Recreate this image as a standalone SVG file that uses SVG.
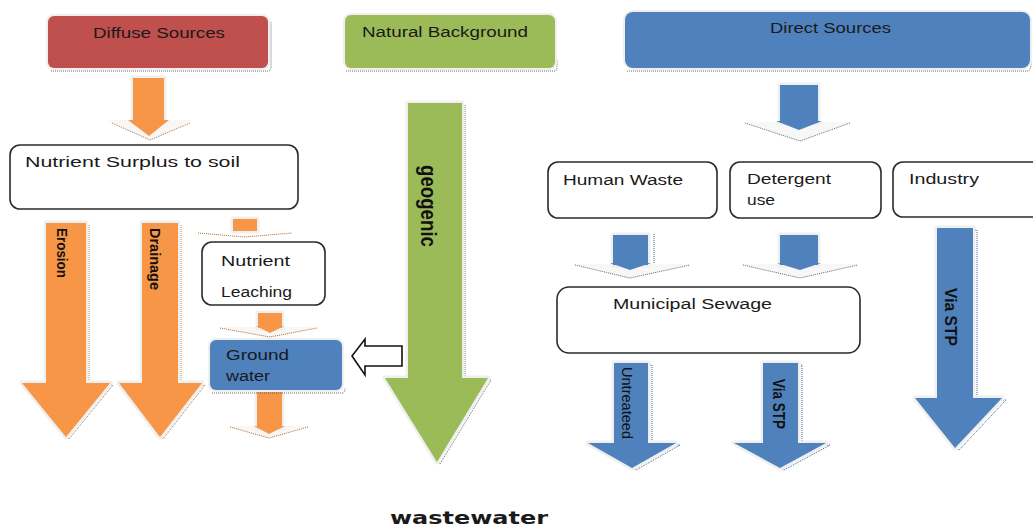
<svg xmlns="http://www.w3.org/2000/svg" width="1033" height="527" viewBox="0 0 1033 527">
<style>
.bg{fill:#ffffff}
.lbl{font-family:"Liberation Sans",Arial,sans-serif;font-size:14px;fill:#1a1a1a}
.vb{font-family:"Liberation Sans Narrow","Liberation Sans",Arial,sans-serif;font-weight:bold;fill:#111}
.vr{font-family:"Liberation Sans Narrow","Liberation Sans",Arial,sans-serif;fill:#111}
.wbox{fill:#ffffff;stroke:#2b2b2b;stroke-width:1.6}
.cbox{stroke:#efefef;stroke-width:4;paint-order:stroke}
.red{fill:#C0504D}.grn{fill:#9BBB59}.blu{fill:#4F81BD}.org{fill:#F79646}
.arr{stroke:#efefef;stroke-width:5;stroke-linejoin:round;paint-order:stroke}
.halo{fill:#f7f7f7}
.dots{fill:none;stroke:#6b6b6b;stroke-width:1;stroke-dasharray:1 1}
.odots{fill:none;stroke:#b06a2a;stroke-width:1;stroke-dasharray:1 1}
.bdots{fill:none;stroke:#3a5f8f;stroke-width:1;stroke-dasharray:1 1}
.hollow{fill:#ffffff;stroke:#111;stroke-width:1.6;stroke-linejoin:miter}
</style>
<rect class="bg" x="0" y="0" width="1033" height="527"/>

<g id="connectors">
  <g id="arrow-diffuse">
    <polygon class="halo" points="108,120 193,120 150,140"/>
    <rect class="org arr" x="133" y="78" width="31" height="44"/>
    <polygon class="org" points="128,120 169,120 149,136"/>
    <polyline class="odots" points="112,123 150,140 190,123"/>
  </g>
  <g id="arrow-erosion">
    <polygon class="odots" transform="translate(3,2)" points="46,223 86,223 86,383 110,383 66,437 22,383 46,383"/>
    <polygon class="org arr" points="46,223 86,223 86,383 110,383 66,437 22,383 46,383"/>
    <text class="vb" font-size="15" transform="translate(62,228) rotate(90)" dominant-baseline="central" textLength="50" lengthAdjust="spacingAndGlyphs">Erosion</text>
  </g>
  <g id="arrow-drainage">
    <polygon class="odots" transform="translate(3,2)" points="142,223 178,223 178,383 202,383 160,437 119,383 142,383"/>
    <polygon class="org arr" points="142,223 178,223 178,383 202,383 160,437 119,383 142,383"/>
    <text class="vb" font-size="15" transform="translate(155,228) rotate(90)" dominant-baseline="central" textLength="62" lengthAdjust="spacingAndGlyphs">Drainage</text>
  </g>
  <g id="arrow-leach">
    <rect class="org arr" x="233" y="219" width="24" height="12"/>
    <polyline class="odots" points="198,233 245,237 292,233"/>
  </g>
  <g id="arrow-gw">
    <polygon class="halo" points="220,327 318,327 270,338"/>
    <rect class="org arr" x="258" y="313" width="24" height="15"/>
    <polygon class="org" points="256,326 284,326 270,333"/>
    <polyline class="odots" points="220,328 270,337 317,328"/>
  </g>
  <g id="arrow-gw-down">
    <polygon class="halo" points="229,426 309,426 269,438"/>
    <rect class="org arr" x="257" y="392" width="25" height="36"/>
    <polygon class="org" points="254,426 285,426 269,434"/>
    <polyline class="odots" points="230,427 269,438 308,427"/>
  </g>
  <g id="arrow-geogenic">
    <polygon class="dots" transform="translate(3,2)" points="408,103 462,103 462,378 488,378 437,462 385,378 408,378"/>
    <polygon class="grn arr" points="408,103 462,103 462,378 488,378 437,462 385,378 408,378"/>
    <text class="vb" font-size="22" transform="translate(428,165) rotate(90)" dominant-baseline="central" textLength="82" lengthAdjust="spacingAndGlyphs">geogenic</text>
  </g>
  <polygon id="arrow-hollow" class="hollow" points="402,346 402,366 365,366 365,375 352,356 365,339 365,346"/>
  <g id="arrow-direct">
    <polygon class="halo" points="743,122 852,122 800,142"/>
    <rect class="blu arr" x="780" y="85" width="38" height="38"/>
    <polygon class="blu" points="776,121 822,121 799,130"/>
    <polyline class="dots" points="745,123 800,141 850,123"/>
  </g>
  <g id="arrow-human">
    <polygon class="halo" points="573,264 692,264 630,279"/>
    <rect class="blu arr" x="613" y="235" width="35" height="30"/>
    <polygon class="blu" points="610,263 651,263 630,270"/>
    <polyline class="dots" points="575,265 630,278 690,265"/>
    <line class="bdots" x1="654" y1="234" x2="654" y2="264"/>
  </g>
  <g id="arrow-detergent">
    <polygon class="halo" points="741,264 860,264 800,279"/>
    <rect class="blu arr" x="780" y="235" width="38" height="30"/>
    <polygon class="blu" points="777,263 821,263 800,270"/>
    <polyline class="dots" points="743,265 800,278 858,265"/>
  </g>
  <g id="arrow-industry">
    <polygon class="bdots" transform="translate(4,2)" points="937,228 973,228 973,398 1002,398 955,448 915,398 937,398"/>
    <polygon class="blu arr" points="937,228 973,228 973,398 1002,398 955,448 915,398 937,398"/>
    <text class="vb" font-size="17" transform="translate(950,288) rotate(90)" dominant-baseline="central" textLength="58" lengthAdjust="spacingAndGlyphs">Via STP</text>
  </g>
  <g id="arrow-untreated">
    <polygon class="bdots" transform="translate(4,2)" points="614,363 648,363 648,443 676,443 632,468 588,443 614,443"/>
    <polygon class="blu arr" points="614,363 648,363 648,443 676,443 632,468 588,443 614,443"/>
    <text class="vr" font-size="14" transform="translate(627,367) rotate(90)" dominant-baseline="central" textLength="72" lengthAdjust="spacingAndGlyphs">Untreateed</text>
  </g>
  <g id="arrow-viastp">
    <polygon class="bdots" transform="translate(4,2)" points="763,363 798,363 798,443 826,443 780,468 734,443 763,443"/>
    <polygon class="blu arr" points="763,363 798,363 798,443 826,443 780,468 734,443 763,443"/>
    <text class="vb" font-size="16" transform="translate(778,379) rotate(90)" dominant-baseline="central" textLength="50" lengthAdjust="spacingAndGlyphs">Via STP</text>
  </g>
</g>

<g id="diffuse-sources">
  <path class="dots" d="M51,71 H268 Q271,71 271,66 V22"/>
  <rect class="red cbox" x="48" y="16" width="220" height="52" rx="6"/>
  <text class="lbl" x="93" y="38" textLength="132" lengthAdjust="spacingAndGlyphs">Diffuse Sources</text>
</g>
<g id="natural-background">
  <path class="dots" d="M346,71 H555 Q557,71 557,66 V60"/>
  <rect class="grn cbox" x="345" y="15" width="210" height="53" rx="6"/>
  <text class="lbl" x="362" y="37" textLength="166" lengthAdjust="spacingAndGlyphs">Natural Background</text>
</g>
<g id="direct-sources">
  <path class="dots" d="M627,71 H1028 Q1031,71 1031,62"/>
  <rect class="blu cbox" x="625" y="12" width="405" height="56" rx="8"/>
  <text class="lbl" x="770" y="33" textLength="121" lengthAdjust="spacingAndGlyphs">Direct Sources</text>
</g>
<g id="nutrient-surplus">
  <rect class="wbox" x="10" y="145" width="288" height="64" rx="10"/>
  <text class="lbl" x="25" y="167" textLength="215" lengthAdjust="spacingAndGlyphs">Nutrient Surplus to soil</text>
</g>
<g id="nutrient-leaching">
  <rect class="wbox" x="202" y="242" width="123" height="63" rx="10"/>
  <text class="lbl" x="221" y="266" textLength="69" lengthAdjust="spacingAndGlyphs">Nutrient</text>
  <text class="lbl" x="221" y="297" textLength="71" lengthAdjust="spacingAndGlyphs">Leaching</text>
</g>
<g id="ground-water">
  <path class="dots" d="M212,393 H342 Q345,393 345,388"/>
  <rect class="blu cbox" x="210" y="340" width="132" height="50" rx="6"/>
  <text class="lbl" x="226" y="360" textLength="63" lengthAdjust="spacingAndGlyphs">Ground</text>
  <text class="lbl" x="226" y="381" font-size="12" textLength="44" lengthAdjust="spacingAndGlyphs">water</text>
</g>
<g id="human-waste">
  <rect class="wbox" x="548" y="162" width="169" height="56" rx="10"/>
  <text class="lbl" x="563" y="185" textLength="120" lengthAdjust="spacingAndGlyphs">Human Waste</text>
</g>
<g id="detergent-use">
  <rect class="wbox" x="730" y="162" width="151" height="56" rx="10"/>
  <text class="lbl" x="747" y="184" textLength="84" lengthAdjust="spacingAndGlyphs">Detergent</text>
  <text class="lbl" x="747" y="205" textLength="28" lengthAdjust="spacingAndGlyphs">use</text>
</g>
<g id="industry">
  <rect class="wbox" x="893" y="162" width="155" height="55" rx="10"/>
  <text class="lbl" x="909" y="184" textLength="70" lengthAdjust="spacingAndGlyphs">Industry</text>
</g>
<g id="municipal-sewage">
  <rect class="wbox" x="557" y="287" width="303" height="66" rx="12"/>
  <text class="lbl" x="613" y="309" textLength="159" lengthAdjust="spacingAndGlyphs">Municipal Sewage</text>
</g>
<g id="wastewater">
  <text x="390" y="524" font-family="'DejaVu Sans',Verdana,sans-serif" font-weight="bold" font-size="18" fill="#1a1a1a" textLength="158" lengthAdjust="spacingAndGlyphs">wastewater</text>
</g>
</svg>
